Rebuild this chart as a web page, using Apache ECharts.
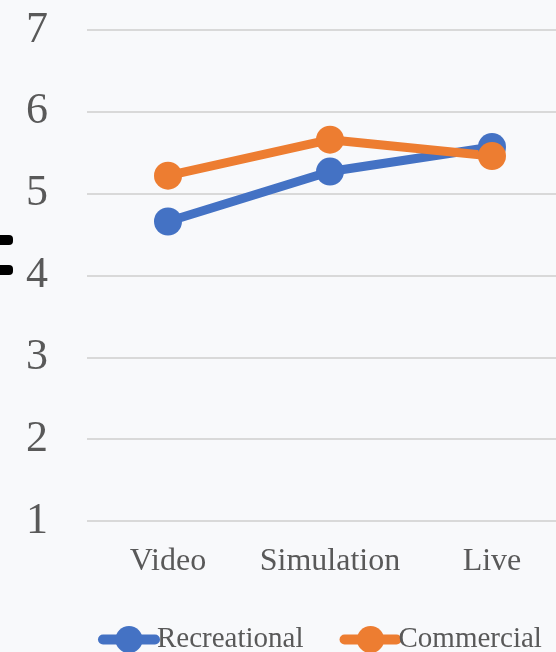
<!DOCTYPE html>
<html>
<head>
<meta charset="utf-8">
<script src="https://cdn.jsdelivr.net/npm/echarts@6/dist/echarts.min.js"></script>
<style>
  html, body { margin: 0; padding: 0; background: #f8f9fb; }
  #chart { width: 556px; height: 652px; }
</style>
</head>
<body>
<div id="chart"></div>
<script>
const categories = ['Video', 'Simulation', 'Live']
const recreational = [4.66, 5.27, 5.57]
const commercial = [5.22, 5.66, 5.46]
const yTicks = [1, 2, 3, 4, 5, 6, 7]

const serif = '"Liberation Serif", "Times New Roman", serif'
const textGrey = '#595959'

const chart = echarts.init(document.getElementById('chart'))

function lineSeries(name, data, color) {
  return {
    name,
    type: 'line',
    data,
    symbol: 'circle',
    symbolSize: 28,
    lineStyle: { color, width: 9 },
    itemStyle: { color },
    z: 3,
  }
}

chart.setOption({
  backgroundColor: '#f8f9fb',
  animation: false,
  graphic: [
    // stray black marks at the left edge of the source image
    { type: 'rect', shape: { x: -6, y: 235, width: 19, height: 10, r: 4 }, style: { fill: '#000' } },
    { type: 'rect', shape: { x: -6, y: 265, width: 19, height: 10, r: 4 }, style: { fill: '#000' } },
  ],
  grid: { left: 87, top: 30, width: 486, height: 491, outerBoundsMode: 'none', containLabel: false },
  xAxis: {
    type: 'category',
    data: categories,
    boundaryGap: true,
    axisLine: { show: false },
    axisTick: { show: false },
    axisLabel: { color: textGrey, fontFamily: serif, fontSize: 32, margin: 25, interval: 0, hideOverlap: false },
  },
  yAxis: {
    type: 'value',
    min: yTicks[0],
    max: yTicks[yTicks.length - 1],
    interval: 1,
    axisLine: { show: false },
    axisTick: { show: false },
    axisLabel: { color: textGrey, fontFamily: serif, fontSize: 44, margin: 50, align: 'center' },
    splitLine: { lineStyle: { color: '#d9d9d9', width: 2 } },
  },
  legend: {
    orient: 'horizontal',
    bottom: -2,
    left: 98,
    width: 470,
    padding: 0,
    itemWidth: 52,
    itemHeight: 34,
    itemGap: 36,
    lineStyle: { width: 10, cap: 'round' },
    textStyle: { color: textGrey, fontFamily: serif, fontSize: 29, padding: [0, 0, 0, -3] },
    data: ['Recreational', 'Commercial'],
  },
  series: [
    lineSeries('Recreational', recreational, '#4472c4'),
    lineSeries('Commercial', commercial, '#ed7d31'),
  ],
})
</script>
</body>
</html>
